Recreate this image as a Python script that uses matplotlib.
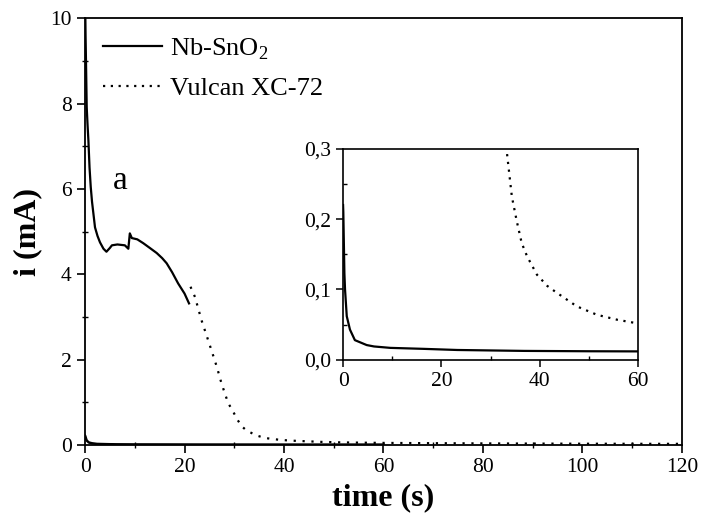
import matplotlib
matplotlib.use("Agg")
import matplotlib.pyplot as plt
from matplotlib.lines import Line2D

# Vulcan XC-72 chronoamperometry (time in s, current in mA)
t_vulcan = [0, 0.1, 0.2, 0.33, 0.5, 0.67, 0.9, 1.14, 1.4, 1.67, 2.0, 2.5, 3.0, 3.7,
            4.3, 5.0, 5.4, 6.5, 8.0, 8.7, 9.0, 9.4, 10.5, 11.7, 13.0, 14.4, 15.5,
            16.4, 17.5, 18.7, 20.0, 20.9,
            21.2, 22.1, 23.4, 24.4, 25.5, 26.5, 27.3, 28.1, 28.8, 29.8, 30.5, 31.5,
            32.5, 33.3, 34.3, 35.3, 36.3, 37.4, 39.4, 41.5, 43.5, 47.5, 51.6, 55.7,
            59.7, 70, 80, 90, 100, 110, 120]
i_vulcan = [10.6, 9.6, 8.9, 7.92, 7.5, 7.14, 6.5, 6.05, 5.7, 5.43, 5.1, 4.9, 4.75, 4.6,
            4.53, 4.62, 4.68, 4.7, 4.68, 4.6, 4.96, 4.85, 4.82, 4.73, 4.62, 4.5, 4.38,
            4.26, 4.05, 3.79, 3.55, 3.32,
            3.71, 3.47, 2.93, 2.58, 2.19, 1.83, 1.5, 1.21, 0.98, 0.78, 0.62, 0.44,
            0.34, 0.294, 0.232, 0.197, 0.166, 0.147, 0.121, 0.105, 0.095, 0.076, 0.064,
            0.057, 0.052, 0.045, 0.04, 0.036, 0.033, 0.031, 0.03]
n_dense = 32  # first part of the Vulcan record is densely sampled

# Nb-SnO2
t_nb = [0, 0.05, 0.27, 0.4, 0.75, 1.4, 2.4, 4.8, 6.3, 9.6, 16.4, 23.2, 36.8, 50, 60]
i_nb = [0.22, 0.21, 0.123, 0.1, 0.062, 0.043, 0.028, 0.021, 0.019, 0.017, 0.0156,
        0.014, 0.0127, 0.0122, 0.012]

plt.rcParams['font.family'] = ['Liberation Serif', 'DejaVu Serif']
plt.rcParams['mathtext.fontset'] = 'custom'
plt.rcParams['mathtext.rm'] = 'Liberation Serif'

fig = plt.figure(figsize=(7.03, 5.2), dpi=100)
ax = fig.add_axes([0.121, 0.144, 0.849, 0.821])

ax.plot(t_vulcan[:n_dense], i_vulcan[:n_dense], color='black', lw=1.6)
ax.plot(t_vulcan[n_dense:], i_vulcan[n_dense:], color='black', lw=1.6,
        linestyle=(0, (1, 3)))
ax.plot(t_nb, i_nb, color='black', lw=1.8)

ax.set_xlim(0, 120)
ax.set_ylim(0, 10)
ax.set_xticks(range(0, 121, 20))
ax.set_xticks(range(0, 121, 10), minor=True)
ax.set_yticks(range(0, 11, 2))
ax.set_yticks(range(0, 11, 1), minor=True)
ax.tick_params(which='major', direction='out', length=6, width=1.2, labelsize=15.5)
ax.tick_params(which='minor', direction='inout', length=4, width=1.0)
for s in ax.spines.values():
    s.set_linewidth(1.3)
ax.set_xlabel('time (s)', fontsize=23, fontweight='bold', labelpad=4)
ax.set_ylabel('i (mA)', fontsize=23, fontweight='bold', labelpad=6)

handles = [Line2D([], [], color='black', lw=1.6),
           Line2D([], [], color='black', lw=1.6, linestyle=(0, (1, 2.5)))]
ax.legend(handles, ['Nb-SnO$_2$', 'Vulcan XC-72'], loc='upper left',
          bbox_to_anchor=(0.030, 0.957), frameon=False, fontsize=19,
          handlelength=2.24, handletextpad=0.3, labelspacing=0.54,
          borderpad=0, borderaxespad=0)

ax.text(0.059, 0.62, 'a', transform=ax.transAxes, fontsize=24,
        ha='center', va='center')

# inset: zoom near zero current
axin = fig.add_axes([0.488, 0.308, 0.420, 0.406])
axin.plot(t_nb, i_nb, color='black', lw=1.6)
axin.plot(t_vulcan, i_vulcan, color='black', lw=1.6, linestyle=(0, (1, 2.5)))
axin.set_xlim(0, 60)
axin.set_ylim(0, 0.3)
axin.set_xticks([0, 20, 40, 60])
axin.set_xticks([10, 30, 50], minor=True)
axin.set_yticks([0, 0.1, 0.2, 0.3])
axin.set_yticks([0.05, 0.15, 0.25], minor=True)
axin.set_yticklabels(['0,0', '0,1', '0,2', '0,3'])
axin.tick_params(which='major', direction='out', length=5, width=1.1, labelsize=15.5)
axin.tick_params(which='minor', direction='in', length=3, width=1.0)
for s in axin.spines.values():
    s.set_linewidth(1.2)

fig.savefig('out.png', dpi=100)
